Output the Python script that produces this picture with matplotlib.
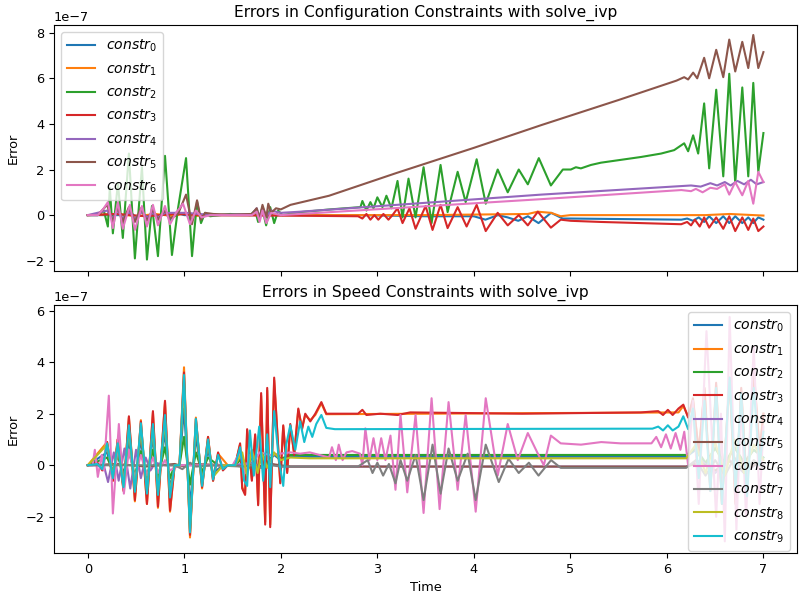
import matplotlib
matplotlib.use("Agg")
import matplotlib.pyplot as plt

plt.rcParams["font.size"] = 9.3
plt.rcParams["legend.fontsize"] = 10.1

# values are in units of 1e-7 as (time, error) pairs
SCALE = 1e-7

# ---- configuration constraints (top panel) ----
top_c0 = [(0, 0), (0.4, 0), (0.45, 0.1), (0.5, -0.1), (0.561, 0.15), (0.613, -0.2), (0.675, 0.15),
          (0.727, -0.2), (0.8, 0.15), (0.852, -0.2), (0.914, 0.1), (1.0, 0), (2.8, 0), (3.5, -0.05),
          (4.0, -0.05), (4.12, -0.2), (4.25, 0.0), (4.35, -0.1), (4.46, -0.25), (4.56, -0.05),
          (4.67, -0.35), (4.8, 0.1), (4.92, -0.15), (5.0, -0.15), (6.15, -0.2), (6.21, -0.15),
          (6.27, -0.25), (6.33, -0.1), (6.386, -0.3), (6.438, -0.05), (6.511, -0.35), (6.584, -0.05),
          (6.646, -0.35), (6.708, -0.05), (6.781, -0.35), (6.843, -0.1), (6.895, -0.35),
          (6.947, -0.1), (7.0, -0.2)]
top_c1 = [(0, 0), (0.3, 0.05), (0.5, -0.05), (0.7, 0.05), (0.9, -0.05), (1.0, 0.1), (1.1, -0.05),
          (1.2, 0), (3.5, 0.0), (4.56, 0.05), (4.66, 0.15), (4.8, 0.1), (4.9, -0.05), (5.0, 0.0),
          (6.4, 0.0), (6.65, 0.05), (7.0, -0.02)]
top_c2 = [(0, 0), (0.104, 0), (0.166, 0.2), (0.208, -0.5), (0.228, 1.2), (0.26, -0.8), (0.312, 1.4),
          (0.363, -1.0), (0.426, 2.7), (0.488, -1.9), (0.561, 2.1), (0.613, -1.95), (0.665, 0.4),
          (0.727, -1.8), (0.8, 2.6), (0.872, -1.75), (0.935, 0.3), (1.018, 2.5), (1.08, -1.8),
          (1.132, 0.6), (1.173, -0.35), (1.215, 0.1), (1.267, -0.05), (1.475, 0.05), (1.682, 0),
          (1.734, 0.2), (1.765, -0.3), (1.807, 0.3), (1.848, -0.45), (1.89, 0.35), (1.931, -0.35),
          (1.973, 0.2), (2.015, 0.0), (2.2, 0.13), (2.51, 0.25), (2.825, 0.35), (2.845, 0.62),
          (2.887, 0.2), (2.928, 0.57), (2.96, 0.3), (3.0, 0.78), (3.053, 0.35), (3.094, 0.85),
          (3.146, 0.3), (3.209, 1.5), (3.261, -0.1), (3.323, 1.6), (3.396, -0.1), (3.479, 2.1),
          (3.562, -0.35), (3.655, 2.2), (3.728, 0.13), (3.832, 1.9), (3.915, 0.57), (4.029, 2.45),
          (4.123, 0.5), (4.247, 2.0), (4.351, 1.0), (4.465, 2.0), (4.559, 1.35), (4.673, 2.5),
          (4.798, 1.3), (4.922, 2.0), (5.005, 2.0), (5.057, 2.1), (5.109, 2.05), (5.213, 2.2),
          (5.317, 2.3), (5.732, 2.55), (5.94, 2.7), (6.075, 2.85), (6.179, 3.15), (6.22, 2.8),
          (6.272, 3.5), (6.324, 2.7), (6.386, 4.9), (6.438, 2.05), (6.511, 5.5), (6.584, 1.7),
          (6.646, 6.2), (6.708, 1.4), (6.781, 5.6), (6.843, 1.7), (6.895, 5.8), (6.947, 1.9),
          (7.0, 3.6)]
top_c3 = [(0, 0), (0.3, 0.05), (0.6, -0.05), (0.9, 0.05), (1.2, 0), (2.0, -0.02), (2.8, -0.05),
          (2.845, -0.15), (2.887, 0.05), (2.928, -0.2), (2.97, 0.0), (3.01, -0.2), (3.063, 0.05),
          (3.115, -0.2), (3.157, 0.0), (3.209, 0.3), (3.261, -0.35), (3.333, 0.3), (3.396, -0.6),
          (3.5, 0.4), (3.572, -0.65), (3.655, 0.45), (3.728, -0.57), (3.832, 0.35), (3.925, -0.5),
          (4.029, 0.45), (4.123, -0.7), (4.247, 0.1), (4.351, -0.45), (4.465, 0.0), (4.559, -0.45),
          (4.663, 0.15), (4.798, -0.55), (4.9, -0.2), (5.005, -0.25), (5.317, -0.3), (5.732, -0.35),
          (6.148, -0.4), (6.21, -0.3), (6.25, -0.45), (6.29, -0.2), (6.34, -0.5), (6.386, -0.1),
          (6.438, -0.55), (6.511, -0.1), (6.584, -0.6), (6.646, -0.05), (6.708, -0.7), (6.781, -0.1),
          (6.843, -0.65), (6.895, -0.15), (6.947, -0.7), (7.0, -0.5)]
top_c4 = [(0, 0), (0.2, 0.2), (0.26, -0.15), (0.31, 0.2), (0.363, -0.15), (0.426, 0.15),
          (0.488, -0.15), (0.561, 0.15), (0.613, -0.1), (0.675, 0.1), (0.727, -0.1), (0.8, 0.1),
          (1.018, 0.1), (1.3, 0), (1.7, 0.05), (1.75, 0.3), (1.78, -0.1), (1.81, 0.35), (1.85, -0.05),
          (1.9, 0.2), (2.0, 0.1), (2.2, 0.15), (4.7, 0.9), (6.25, 1.3), (6.35, 1.25), (6.45, 1.4),
          (6.52, 1.3), (6.6, 1.45), (6.66, 1.3), (6.73, 1.5), (6.8, 1.35), (6.87, 1.55), (6.93, 1.35),
          (7.0, 1.45)]
top_c5 = [(0, 0), (0.104, 0), (0.2, 0.45), (0.26, -0.3), (0.31, 0.35), (0.363, -0.3), (0.426, 0.35),
          (0.488, -0.3), (0.55, 0.3), (0.613, -0.25), (0.675, 0.25), (0.727, -0.2), (0.8, 0.2),
          (0.852, -0.15), (0.935, 0.05), (1.018, 0.9), (1.08, -0.4), (1.132, 0.65), (1.173, -0.2),
          (1.215, 0.1), (1.3, 0.05), (1.5, 0.02), (1.7, 0.05), (1.75, 0.3), (1.78, -0.15), (1.81, 0.45),
          (1.85, -0.1), (1.87, 0.5), (1.9, 0.1), (1.95, 0.3), (2.0, 0.25), (2.05, 0.35), (2.1, 0.45),
          (2.5, 0.85), (3.2, 1.85), (4.0, 2.95), (4.7, 3.95), (5.5, 5.05), (6.1, 5.9), (6.179, 6.05),
          (6.22, 5.95), (6.272, 6.25), (6.314, 6.0), (6.386, 6.9), (6.438, 6.0), (6.511, 7.25),
          (6.584, 6.05), (6.646, 7.7), (6.708, 6.3), (6.781, 7.6), (6.843, 6.45), (6.895, 7.9),
          (6.947, 6.45), (7.0, 7.15)]
top_c6 = [(0, 0), (0.104, 0), (0.166, 0.3), (0.208, 0.57), (0.26, -0.57), (0.312, 0.57),
          (0.363, -0.6), (0.436, 0.45), (0.488, -0.65), (0.561, 0.4), (0.613, -0.5), (0.675, 0.45),
          (0.727, -0.45), (0.8, 0.4), (0.852, -0.4), (0.914, 0.1), (0.987, 0.5), (1.059, -0.4),
          (1.12, 0.2), (1.18, -0.1), (1.27, 0), (1.7, 0), (1.75, 0.15), (1.78, -0.3), (1.81, 0.2),
          (1.85, -0.35), (1.9, 0.1), (2.0, 0.0), (2.2, 0.05), (4.7, 0.7), (6.15, 1.1), (6.25, 1.05),
          (6.3, 1.15), (6.37, 1.0), (6.45, 1.2), (6.52, 1.15), (6.6, 1.35), (6.646, 0.9), (6.708, 1.45),
          (6.781, 0.87), (6.843, 1.5), (6.895, 0.5), (6.947, 1.9), (7.0, 1.45)]
top_series = [top_c0, top_c1, top_c2, top_c3, top_c4, top_c5, top_c6]

# ---- speed constraints (bottom panel) ----
bot_c0 = [(0, 0), (0.2, 0.5), (0.26, -0.35), (0.31, 0.55), (0.37, -0.55), (0.426, 1.0), (0.488, -0.7),
          (0.55, 1.0), (0.613, -0.75), (0.675, 1.1), (0.727, -0.8), (0.8, 1.3), (0.852, -0.9),
          (0.9, 0.0), (0.95, 0.0), (0.997, 2.2), (1.059, -1.6), (1.12, 1.1), (1.184, -0.5),
          (1.246, 0.6), (1.298, -0.3), (1.4, 0.0), (1.527, 0.0), (1.6, 0.3), (1.65, -0.2), (1.7, 0.35),
          (1.76, -0.1), (1.8, 0.4), (1.86, 0.1), (1.93, 0.4), (2.0, 0.2), (2.1, 0.35), (2.3, 0.33),
          (6.2, 0.33), (6.3, 0.6), (6.4, 0.0), (6.5, 0.7), (6.6, 0.0), (6.7, 0.7), (6.8, 0.1),
          (6.9, 0.6), (7.0, 0.3)]
bot_c1 = [(0, 0), (0.2, 0.9), (0.26, -0.6), (0.31, 1.0), (0.37, -0.95), (0.426, 1.85), (0.488, -1.4),
          (0.55, 1.75), (0.613, -1.5), (0.675, 2.05), (0.727, -1.65), (0.8, 2.45), (0.852, -1.8),
          (0.9, 0.0), (0.95, 0.0), (0.997, 3.8), (1.059, -2.8), (1.12, 1.85), (1.184, -0.9),
          (1.246, 1.1), (1.298, -0.6), (1.35, 0.45), (1.45, 0.0), (1.527, 0.0), (1.578, 0.8),
          (1.6, -0.85), (1.63, -1.1), (1.651, 1.35), (1.7, -0.55), (1.734, 1.15), (1.765, -1.5),
          (1.796, 2.7), (1.838, -2.2), (1.859, 2.9), (1.89, -2.3), (1.931, 3.3), (1.994, -0.65),
          (2.025, 1.5), (2.066, -0.25), (2.098, 1.55), (2.139, 0.45), (2.181, 2.15), (2.22, 1.45),
          (2.253, 1.95), (2.305, 1.75), (2.357, 1.95), (2.42, 2.4), (2.471, 1.98), (6.12, 2.05),
          (6.17, 2.3), (6.22, 1.9), (6.27, 2.5), (6.33, 0.6), (6.39, 2.9), (6.45, -0.9), (6.51, 3.1),
          (6.57, -1.4), (6.65, 3.3), (6.71, -1.4), (6.77, 2.9), (6.83, -0.9), (6.9, 3.6), (6.96, 0.6),
          (7.0, 2.0)]
bot_c2 = [(0, 0), (0.2, 0.3), (0.26, -0.2), (0.31, 0.35), (0.37, -0.3), (0.426, 0.55), (0.488, -0.4),
          (0.55, 0.55), (0.613, -0.45), (0.675, 0.6), (0.727, -0.45), (0.8, 0.7), (0.852, -0.5),
          (0.9, 0.0), (0.95, 0.0), (0.997, 1.1), (1.059, -0.75), (1.12, 0.5), (1.184, -0.25),
          (1.246, 0.3), (1.35, 0.0), (1.527, 0.0), (1.6, 0.3), (1.65, -0.2), (1.7, 0.4), (1.76, -0.15),
          (1.8, 0.45), (1.86, 0.1), (1.93, 0.45), (2.0, 0.25), (2.1, 0.4), (2.3, 0.4), (6.2, 0.4),
          (6.3, 0.65), (6.4, 0.1), (6.5, 0.65), (6.6, 0.1), (6.7, 0.7), (6.8, 0.1), (6.9, 0.6),
          (7.0, 0.3)]
bot_c3 = [(0, 0), (0.1, 0.1), (0.15, -0.2), (0.2, 0.9), (0.26, -0.6), (0.31, 1.0), (0.37, -1.0),
          (0.426, 1.9), (0.488, -1.35), (0.55, 1.7), (0.613, -1.5), (0.675, 2.1), (0.727, -1.6),
          (0.8, 2.5), (0.852, -1.75), (0.9, 0.0), (0.95, 0.0), (0.997, 3.6), (1.059, -2.7), (1.12, 1.8),
          (1.184, -0.85), (1.246, 1.1), (1.298, -0.6), (1.35, 0.5), (1.4, -0.2), (1.45, 0.0),
          (1.527, 0.0), (1.578, 0.85), (1.6, -0.9), (1.63, -1.15), (1.651, 1.4), (1.7, -0.6),
          (1.734, 1.2), (1.765, -1.55), (1.796, 2.8), (1.838, -2.3), (1.859, 3.0), (1.89, -2.4),
          (1.931, 3.4), (1.994, -0.7), (2.025, 1.55), (2.066, -0.3), (2.098, 1.6), (2.139, 0.4),
          (2.181, 2.2), (2.22, 1.4), (2.253, 2.0), (2.305, 1.7), (2.357, 2.0), (2.42, 2.45),
          (2.471, 2.0), (2.8, 2.0), (2.845, 2.15), (2.887, 1.95), (3.03, 2.0), (3.21, 1.95),
          (3.34, 2.05), (4.5, 2.0), (5.73, 2.05), (5.91, 2.1), (5.96, 1.95), (6.01, 2.15), (6.06, 1.95),
          (6.12, 2.2), (6.17, 2.35), (6.22, 1.85), (6.27, 2.6), (6.33, 0.5), (6.39, 3.0), (6.45, -1.0),
          (6.51, 3.2), (6.57, -1.5), (6.65, 3.4), (6.71, -1.5), (6.77, 3.0), (6.83, -1.0), (6.9, 3.75),
          (6.96, 0.5), (7.0, 2.0)]
bot_c4 = [(0, 0), (0.166, 0), (0.21, -0.65), (0.27, 0.5), (0.32, -0.6), (0.38, 0.65), (0.44, -0.9),
          (0.5, 0.6), (0.55, -0.5), (0.6, 0.3), (0.65, -0.2), (0.7, 0.1), (0.8, 0.0), (1.5, 0.0),
          (1.7, 0.1), (1.8, -0.1), (1.9, 0.05), (2.0, -0.05), (6.2, -0.05), (6.35, 0.2), (6.5, -0.3),
          (6.65, 0.2), (6.8, -0.3), (6.95, 0.1), (7.0, 0.0)]
bot_c5 = [(0, 0), (0.3, 0.05), (0.6, -0.05), (0.9, 0.05), (1.0, -0.05), (1.06, 0.05), (1.5, 0.0),
          (1.7, -0.1), (1.9, 0.05), (2.1, -0.05), (6.2, -0.05), (6.35, 0.1), (6.5, -0.2), (6.65, 0.15),
          (6.8, -0.2), (6.95, 0.1), (7.0, 0.0)]
bot_c6 = [(0, 0), (0.05, 0.0), (0.073, 0.6), (0.104, -0.45), (0.145, 0.4), (0.166, -0.2),
          (0.218, 2.7), (0.26, -1.87), (0.322, 1.6), (0.374, -1.1), (0.426, 0.6), (0.488, -0.5),
          (0.55, 0.4), (0.613, -0.4), (0.675, 0.3), (0.727, -0.3), (0.8, 0.2), (0.852, -0.2),
          (0.95, 0.0), (1.5, 0.0), (1.578, 0.5), (1.63, -0.3), (1.68, 0.4), (1.73, 0.2), (1.78, 0.5),
          (1.89, 0.4), (1.99, 0.45), (2.1, 0.5), (2.2, 0.45), (2.3, 0.5), (2.5, 0.3), (2.53, 0.7),
          (2.57, 0.2), (2.6, 0.8), (2.64, 0.2), (2.68, 0.5), (2.74, 0.55), (2.82, 0.45), (2.845, 0.0),
          (2.876, 1.43), (2.918, 0.2), (2.96, 1.05), (3.0, 0.2), (3.04, 1.05), (3.084, 0.2),
          (3.136, 1.15), (3.188, -0.95), (3.24, 1.95), (3.31, -1.05), (3.396, 1.95), (3.479, -1.85),
          (3.562, 2.6), (3.645, -1.7), (3.738, 2.45), (3.832, -0.95), (3.915, 1.95), (4.019, -1.8),
          (4.123, 2.6), (4.247, -0.4), (4.351, 1.6), (4.455, 0.2), (4.559, 1.25), (4.663, 0.45),
          (4.725, 0.0), (4.798, 1.15), (4.9, 0.85), (5.11, 0.8), (5.32, 0.9), (5.52, 0.85),
          (5.84, 0.85), (5.89, 1.1), (5.94, 0.7), (5.99, 1.2), (6.04, 0.65), (6.09, 1.25), (6.14, 0.6),
          (6.18, 1.3), (6.22, 0.0), (6.27, 2.5), (6.33, -1.5), (6.41, 5.2), (6.51, -2.0), (6.56, 2.0),
          (6.6, -2.95), (6.65, 5.75), (6.72, -2.5), (6.77, 2.5), (6.82, -2.0), (6.9, 4.6), (6.96, -1.5),
          (7.0, 1.5)]
bot_c7 = [(0, 0), (0.9, 0.0), (0.98, -0.15), (1.06, 0.1), (1.12, -0.05), (1.3, 0.0), (1.6, -0.05),
          (1.7, 0.0), (1.8, -0.1), (1.9, 0.0), (2.0, -0.05), (2.8, -0.05), (2.9, 0.2), (2.95, -0.3),
          (3.0, 0.1), (3.06, -0.4), (3.12, 0.05), (3.188, -0.7), (3.24, 0.2), (3.31, -0.6), (3.396, 0.4),
          (3.479, -1.35), (3.572, 0.8), (3.655, -1.1), (3.738, 0.65), (3.832, -0.6), (3.936, 0.45),
          (4.019, -1.35), (4.123, 0.8), (4.258, -0.65), (4.36, 0.25), (4.465, -0.3), (4.57, 0.1),
          (4.67, -0.4), (4.8, 0.2), (4.9, -0.1), (6.2, -0.1), (6.3, 0.2), (6.4, -0.4), (6.5, 0.2),
          (6.6, -0.4), (6.7, 0.3), (6.8, -0.3), (6.9, 0.2), (7.0, -0.1)]
bot_c8 = [(0, 0), (0.2, 0.8), (0.26, -0.45), (0.31, 0.8), (0.37, -0.8), (0.426, 1.4), (0.488, -0.95),
          (0.55, 1.45), (0.613, -1.0), (0.675, 1.45), (0.727, -1.05), (0.8, 1.75), (0.852, -1.1),
          (0.9, 0.0), (0.95, 0.0), (0.997, 3.2), (1.059, -2.5), (1.12, 1.6), (1.184, -0.7),
          (1.246, 0.9), (1.298, -0.45), (1.4, 0.0), (1.527, 0.0), (1.6, 0.5), (1.65, -0.4), (1.7, 0.6),
          (1.76, -0.3), (1.8, 0.5), (1.86, -0.1), (1.93, 0.5), (2.0, 0.2), (2.1, 0.3), (2.3, 0.27),
          (6.2, 0.27), (6.3, 0.8), (6.4, -0.3), (6.5, 0.9), (6.6, -0.4), (6.7, 1.0), (6.8, -0.3),
          (6.9, 0.8), (7.0, 0.2)]
bot_c9 = [(0, 0), (0.1, 0.05), (0.15, -0.15), (0.2, 0.85), (0.26, -0.5), (0.31, 0.85), (0.37, -0.85),
          (0.426, 1.55), (0.488, -1.03), (0.55, 1.63), (0.613, -1.1), (0.675, 1.6), (0.727, -1.15),
          (0.8, 1.95), (0.852, -1.25), (0.9, 0.0), (0.95, 0.0), (0.997, 3.5), (1.059, -2.6), (1.12, 1.8),
          (1.184, -0.8), (1.246, 1.0), (1.298, -0.55), (1.35, 0.4), (1.4, -0.15), (1.45, 0.0),
          (1.527, 0.0), (1.578, 0.7), (1.62, -0.6), (1.651, -0.8), (1.68, 1.35), (1.72, -0.4),
          (1.776, 1.5), (1.817, -0.6), (1.859, 1.2), (1.89, -0.85), (1.931, 2.1), (1.98, 0.2),
          (2.025, -0.8), (2.056, 0.8), (2.098, 1.55), (2.15, 0.6), (2.2, 1.7), (2.243, 0.9),
          (2.285, 1.5), (2.326, 1.1), (2.367, 1.6), (2.42, 1.95), (2.471, 1.45), (2.56, 1.4),
          (5.85, 1.42), (5.91, 1.5), (5.96, 1.35), (6.01, 1.55), (6.06, 1.35), (6.12, 1.5), (6.17, 1.9),
          (6.22, 1.4), (6.27, 2.2), (6.33, -0.5), (6.39, 2.5), (6.45, -1.0), (6.51, 3.0), (6.57, -1.5),
          (6.65, 3.4), (6.71, -1.0), (6.77, 2.8), (6.83, -1.2), (6.9, 3.0), (6.96, 0.0), (7.0, 1.3)]
bot_series = [bot_c0, bot_c1, bot_c2, bot_c3, bot_c4, bot_c5, bot_c6, bot_c7, bot_c8, bot_c9]


def draw(ax, series):
    for i, pts in enumerate(series):
        t = [p[0] for p in pts]
        v = [p[1] * SCALE for p in pts]
        ax.plot(t, v, label=f"$constr_{i}$")


fig, (ax1, ax2) = plt.subplots(2, 1, figsize=(8, 6), dpi=100, sharex=True)
ax1.set_position([0.0675, 0.548, 0.929, 0.41])
ax2.set_position([0.0675, 0.078, 0.929, 0.413])

draw(ax1, top_series)
ax1.set_title("Errors in Configuration Constraints with solve_ivp")
ax1.set_ylabel("Error")
ax1.set_ylim(-2.46e-7, 8.33e-7)
ax1.legend(loc="upper left")

draw(ax2, bot_series)
ax2.set_title("Errors in Speed Constraints with solve_ivp")
ax2.set_ylabel("Error")
ax2.set_xlabel("Time")
ax2.set_ylim(-3.41e-7, 6.2e-7)
ax2.legend(loc="upper right")

plt.savefig("out.png")
